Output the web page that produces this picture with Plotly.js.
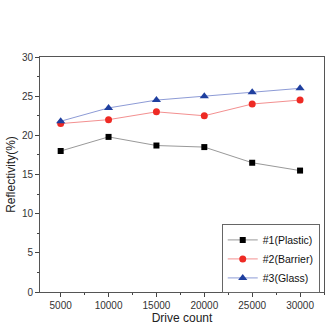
<!DOCTYPE html>
<html>
<head>
<meta charset="utf-8">
<script src="https://cdn.plot.ly/plotly-3.0.1.min.js"></script>
<style>html,body{margin:0;padding:0;background:#fff;}#chart{width:329px;height:327px;}</style>
</head>
<body>
<div id="chart"></div>
<script>
// Reflectivity versus drive count for three substrate types
const driveCount = [5000, 10000, 15000, 20000, 25000, 30000];
const driveLabels = ['5000', '10000', '15000', '20000', '25000', '30000'];
const plastic = [18.0, 19.8, 18.7, 18.5, 16.5, 15.5];
const barrier = [21.5, 22.0, 23.0, 22.5, 24.0, 24.5];
const glass = [21.8, 23.5, 24.5, 25.0, 25.5, 26.0];
const seriesNames = ['#1(Plastic)', '#2(Barrier)', '#3(Glass)'];

function series(y, name, lineColor, markerColor, symbol, size) {
  return {
    x: driveCount, y: y, name: name, type: 'scatter', mode: 'lines+markers',
    line: {color: lineColor, width: 1},
    marker: {color: markerColor, symbol: symbol, size: size}
  };
}

const traces = [
  series(plastic, seriesNames[0], '#999999', '#000000', 'square', 6),
  series(barrier, seriesNames[1], '#f39090', '#ee2a24', 'circle', 7),
  series(glass, seriesNames[2], '#8d9bd6', '#1f3f9f', 'triangle-up', 8)
];

const fontFamily = 'Liberation Sans, Arial, sans-serif';
const axisFont = {family: fontFamily, size: 10, color: '#333'};

const layout = {
  width: 329, height: 327,
  margin: {l: 40, r: 5, t: 57, b: 35},
  paper_bgcolor: '#fff', plot_bgcolor: '#fff',
  font: axisFont,
  showlegend: true,
  legend: {
    x: 0.985, y: -0.006, xanchor: 'right', yanchor: 'bottom',
    bordercolor: '#666', borderwidth: 1, bgcolor: '#fff',
    font: {family: fontFamily, size: 10.5, color: '#111'},
    tracegroupgap: 0, itemwidth: 30
  },
  xaxis: {
    range: [2840, 32500], tickvals: driveCount, ticktext: driveLabels,
    ticks: 'outside', ticklen: 4,
    tickcolor: '#444', showgrid: false, zeroline: false, showline: true,
    linecolor: '#555', linewidth: 1, mirror: true,
    minor: {dtick: 2500, tick0: 0, ticks: 'outside', ticklen: 2, tickcolor: '#444'},
    tickfont: axisFont,
    title: {text: 'Drive count', font: {family: fontFamily, size: 12, color: '#222'}, standoff: 3}
  },
  yaxis: {
    range: [0, 30], dtick: 5, ticks: 'outside', ticklen: 4,
    tickcolor: '#444', showgrid: false, zeroline: false, showline: true,
    linecolor: '#555', linewidth: 1, mirror: true,
    minor: {dtick: 2.5, ticks: 'outside', ticklen: 2, tickcolor: '#444'},
    tickfont: axisFont,
    title: {text: 'Reflectivity(%)', font: {family: fontFamily, size: 12, color: '#222'}, standoff: 3}
  }
};

Plotly.newPlot('chart', traces, layout, {displayModeBar: false, staticPlot: true});
</script>
</body>
</html>
